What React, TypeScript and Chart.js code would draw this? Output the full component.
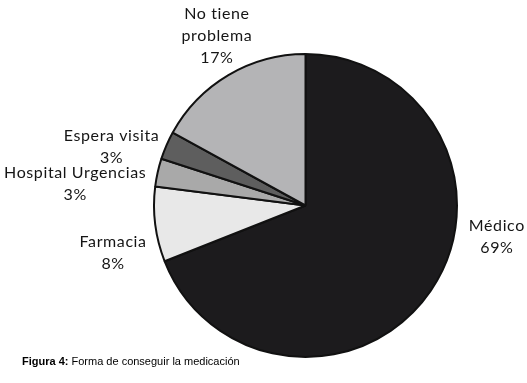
import React, { useEffect, useRef } from "react";
import { Chart, registerables } from "chart.js";

Chart.register(...registerables);

const categories = ["Médico", "Farmacia", "Hospital Urgencias", "Espera visita", "No tiene problema"];
const labelLines = [["Médico"], ["Farmacia"], ["Hospital Urgencias"], ["Espera visita"], ["No tiene", "problema"]];
const values = [69, 8, 3, 3, 17];
const sliceColors = ["#1c1b1d", "#e8e8e8", "#a9a9a9", "#5e5e5e", "#b4b4b6"];
const captionBold = "Figura 4:";
const captionText = " Forma de conseguir la medicación";

// label block centre, relative to pie centre, in units of the outer radius
const labelOffsets = [
  [1.263, 0.204],
  [-1.27, 0.31],
  [-1.52, -0.14],
  [-1.28, -0.39],
  [-0.585, -1.12],
];

const labelPlugin = {
  id: "sliceLabels",
  afterDraw(chart: any) {
    const meta = chart.getDatasetMeta(0);
    const ctx = chart.ctx;
    const total = values.reduce((a, b) => a + b, 0);
    ctx.save();
    ctx.font = "16px Lato";
    (ctx as any).letterSpacing = "0.6px";
    ctx.fillStyle = "#151515";
    ctx.textAlign = "center";
    ctx.textBaseline = "middle";
    const lh = 22;
    meta.data.forEach((arc: any, i: number) => {
      const { x, y, outerRadius } = arc.getProps(["x", "y", "outerRadius"], true);
      const cx = x + labelOffsets[i][0] * outerRadius;
      const cy = y + labelOffsets[i][1] * outerRadius;
      const lines = [...labelLines[i], Math.round((values[i] / total) * 100) + "%"];
      const startY = cy - ((lines.length - 1) * lh) / 2;
      lines.forEach((t, k) => ctx.fillText(t, cx, startY + k * lh));
    });
    ctx.restore();
  },
};

export default function App() {
  const ref = useRef<HTMLCanvasElement>(null);
  useEffect(() => {
    document.body.style.margin = "0";
    const chart = new Chart(ref.current!, {
      type: "pie",
      data: {
        labels: categories,
        datasets: [
          {
            data: values,
            backgroundColor: sliceColors,
            borderColor: "#111",
            borderWidth: 2,
          },
        ],
      },
      options: {
        animation: false,
        responsive: false,
        layout: { padding: { left: 153, top: 53, right: 69, bottom: 25 } },
        plugins: { legend: { display: false }, tooltip: { enabled: false } },
      },
      plugins: [labelPlugin],
    });
    return () => chart.destroy();
  }, []);
  return (
    <div style={{ position: "relative", width: 527, height: 383, background: "#fff" }}>
      <canvas ref={ref} width={527} height={383} style={{ position: "absolute", left: 0, top: 0 }} />
      <div
        style={{
          position: "absolute",
          left: 22,
          top: 355,
          fontFamily: "Arial, 'Liberation Sans', sans-serif",
          fontSize: 11,
          color: "#000",
          whiteSpace: "nowrap",
        }}
      >
        <b>{captionBold}</b>
        {captionText}
      </div>
    </div>
  );
}
